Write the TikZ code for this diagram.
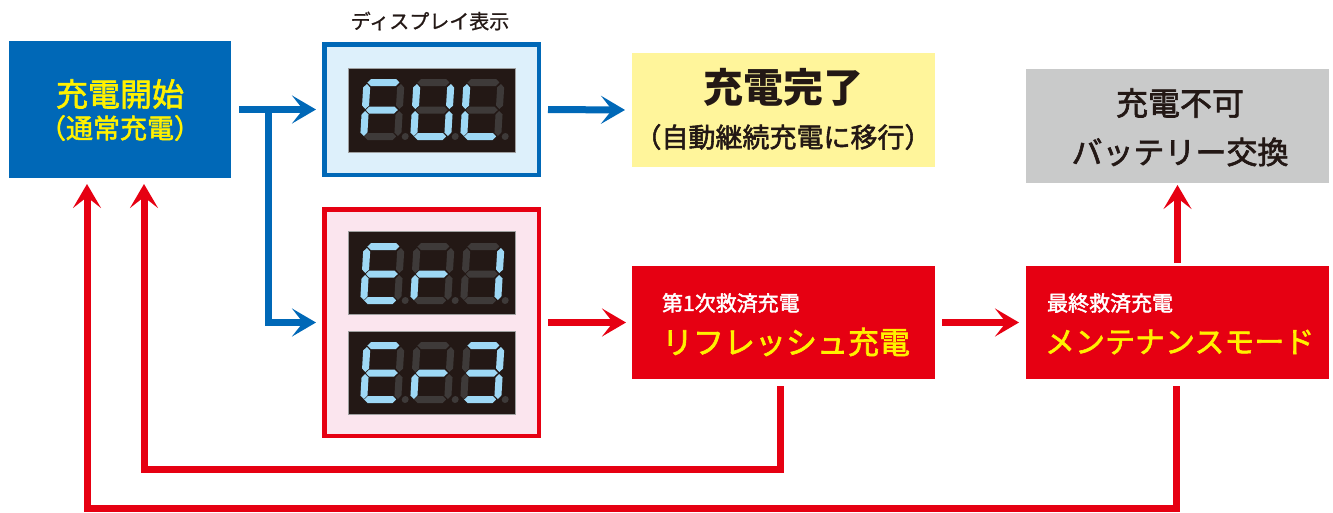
\documentclass[tikz,border=0pt]{standalone}
\usepackage{fontspec}
\setmainfont{Noto Sans CJK JP}
\newfontfamily\jpmed[FakeBold=2]{Noto Sans CJK JP}
\newfontfamily\jplight[FakeBold=1]{Noto Sans CJK JP}
\usetikzlibrary{arrows.meta}
\definecolor{cblue}{HTML}{0068B7}
\definecolor{cred}{HTML}{E60012}
\definecolor{lblue}{HTML}{DDF0FB}
\definecolor{lpink}{HTML}{FBE5EE}
\definecolor{lyellow}{HTML}{FFF59B}
\definecolor{lgray}{HTML}{C9CACA}
\definecolor{dispbg}{HTML}{231815}
\definecolor{dispedge}{HTML}{9FA0A0}
\definecolor{segon}{HTML}{9ED8F5}
\definecolor{segoff}{HTML}{3E3A39}
\definecolor{tyellow}{HTML}{FFF100}
\definecolor{tdark}{HTML}{231815}
\tikzset{
  flatbox/.style={rectangle, inner sep=0pt, outer sep=0pt, draw=none},
  framebox/.style={rectangle, inner sep=0pt, line width=4.5pt},
  dispbox/.style={rectangle, inner sep=0pt, fill=dispbg, draw=dispedge, line width=0.8pt,
    minimum width=167pt},
  txt/.style={inner sep=0pt, outer sep=0pt},
  s0/.style={fill=segoff},
  s1/.style={fill=segon},
  conn/.style={line width=7pt, -{Stealth[length=24pt,width=28pt,inset=11pt]}},
  bconn/.style={conn, draw=cblue},
  rconn/.style={conn, draw=cred},
}
% x, y (bottom-left), segments a b c d e f g
\newcommand\segdigit[9]{%
  \begin{scope}[shift={(#1,#2)},xslant=0.06]
    \fill[s#3] (4,-57.5)--(7.5,-61)--(32.5,-61)--(36,-57.5)--(32.5,-54)--(7.5,-54)--cycle;
    \fill[s#4] (37.5,-56)--(41,-52.5)--(41,-34.5)--(37.5,-31)--(34,-34.5)--(34,-52.5)--cycle;
    \fill[s#5] (37.5,-29)--(41,-25.5)--(41,-7.5)--(37.5,-4)--(34,-7.5)--(34,-25.5)--cycle;
    \fill[s#6] (4,-3.5)--(7.5,-7)--(32.5,-7)--(36,-3.5)--(32.5,0)--(7.5,0)--cycle;
    \fill[s#7] (3.5,-29)--(7,-25.5)--(7,-7.5)--(3.5,-4)--(0,-7.5)--(0,-25.5)--cycle;
    \fill[s#8] (3.5,-56)--(7,-52.5)--(7,-34.5)--(3.5,-31)--(0,-34.5)--(0,-52.5)--cycle;
    \fill[s#9] (4,-30)--(7.5,-33.5)--(32.5,-33.5)--(36,-30)--(32.5,-26.5)--(7.5,-26.5)--cycle;
    \fill[s0] (45,-3.5) circle (3.5);
  \end{scope}}
\begin{document}
\begin{tikzpicture}[x=1pt,y=-1pt]
\useasboundingbox (0,0) rectangle (1333,512);

% boxes
\node[flatbox, fill=cblue, minimum width=222pt, minimum height=137pt] (start) at (120,109.5) {};
\node[framebox, draw=cblue, fill=lblue, minimum width=214.5pt, minimum height=130.5pt] (ful) at (431.5,109.5) {};
\node[framebox, draw=cred, fill=lpink, minimum width=214.5pt, minimum height=226.5pt] (err) at (431.5,322.5) {};
\node[flatbox, fill=lyellow, minimum width=303pt, minimum height=114pt] (yel) at (783.5,110) {};
\node[flatbox, fill=lgray, minimum width=303pt, minimum height=114pt] (gray) at (1177.5,126) {};
\node[flatbox, fill=cred, minimum width=303pt, minimum height=113pt] (rb1) at (783.5,322.5) {};
\node[flatbox, fill=cred, minimum width=303pt, minimum height=113pt] (rb2) at (1177.5,322.5) {};

% displays
\node[dispbox, minimum height=84pt] (d1) at (431.5,110) {};
\node[dispbox, minimum height=83pt] (d2) at (431.5,272.5) {};
\node[dispbox, minimum height=83pt] (d3) at (431.5,372.5) {};

% F U L
\segdigit{360}{140}{1}{0}{0}{0}{1}{1}{1}
\segdigit{410}{140}{0}{1}{1}{1}{1}{1}{0}
\segdigit{460}{140}{0}{0}{0}{1}{1}{1}{0}
% E r 1
\segdigit{360}{304}{1}{0}{0}{1}{1}{1}{1}
\segdigit{410}{304}{0}{0}{0}{0}{1}{0}{1}
\segdigit{460}{304}{0}{1}{1}{0}{0}{0}{0}
% E r 3
\segdigit{360}{403}{1}{0}{0}{1}{1}{1}{1}
\segdigit{410}{403}{0}{0}{0}{0}{1}{0}{1}
\segdigit{460}{403}{1}{1}{1}{1}{0}{0}{1}

% texts
\node[txt, font=\fontsize{32}{32}\jpmed, text=tyellow] (t1) at (120,94) {充電開始};
\node[txt, font=\fontsize{27}{27}\jpmed, text=tyellow] (t2) at (120,128) {（通常充電）};
\node[txt, font=\fontsize{20}{20}\jplight, text=tdark] (tdisp) at (430,21) {ディスプレイ表示};
\node[txt, font=\fontsize{40}{40}\selectfont\bfseries, text=tdark] (t3) at (783,87) {充電完了};
\node[txt, font=\fontsize{27}{27}\jpmed, text=tdark] (t4) at (783,137) {（自動継続充電に移行）};
\node[txt, font=\fontsize{32}{32}\jpmed, text=tdark] (t5) at (1180,103) {充電不可};
\node[txt, font=\fontsize{31}{31}\jpmed, text=tdark] (t6) at (1180,152) {バッテリー交換};
\node[txt, anchor=west, font=\fontsize{21}{21}\jpmed, text=white] (t7) at (662,303) {第1次救済充電};
\node[txt, anchor=west, font=\fontsize{31}{31}\jpmed, text=tyellow] (t8) at (662,342) {リフレッシュ充電};
\node[txt, anchor=west, font=\fontsize{21}{21}\jpmed, text=white] (t9) at (1047,303) {最終救済充電};
\node[txt, anchor=west, font=\fontsize{30}{30}\jpmed, text=tyellow] (t10) at (1045,342) {メンテナンスモード};

% connectors
\coordinate (bx) at (268,109.5);
\coordinate (l1) at (144,469);
\coordinate (l2) at (87,508);
\draw[bconn, shorten <=8pt, shorten >=6pt] (start.east) -- (ful.west);
\draw[bconn, shorten >=6pt] (bx) |- (err.west);
\draw[bconn, shorten <=7pt, shorten >=7pt] (ful.east) -- (yel.west);
\draw[rconn, shorten <=7pt, shorten >=6pt] (err.east) -- (rb1.west);
\draw[rconn, shorten <=7pt, shorten >=7pt] (rb1.east) -- (rb2.west);
\draw[rconn, shorten <=3pt, shorten >=2pt] (rb2.north) -- (gray.south);
\draw[rconn, shorten <=7pt, shorten >=6pt] ([xshift=-3pt]rb1.south) |- (l1) -- (l1 |- start.south);
\draw[rconn, shorten <=7pt, shorten >=6pt] ([xshift=-1pt]rb2.south) |- (l2) -- (l2 |- start.south);
\end{tikzpicture}
\end{document}
